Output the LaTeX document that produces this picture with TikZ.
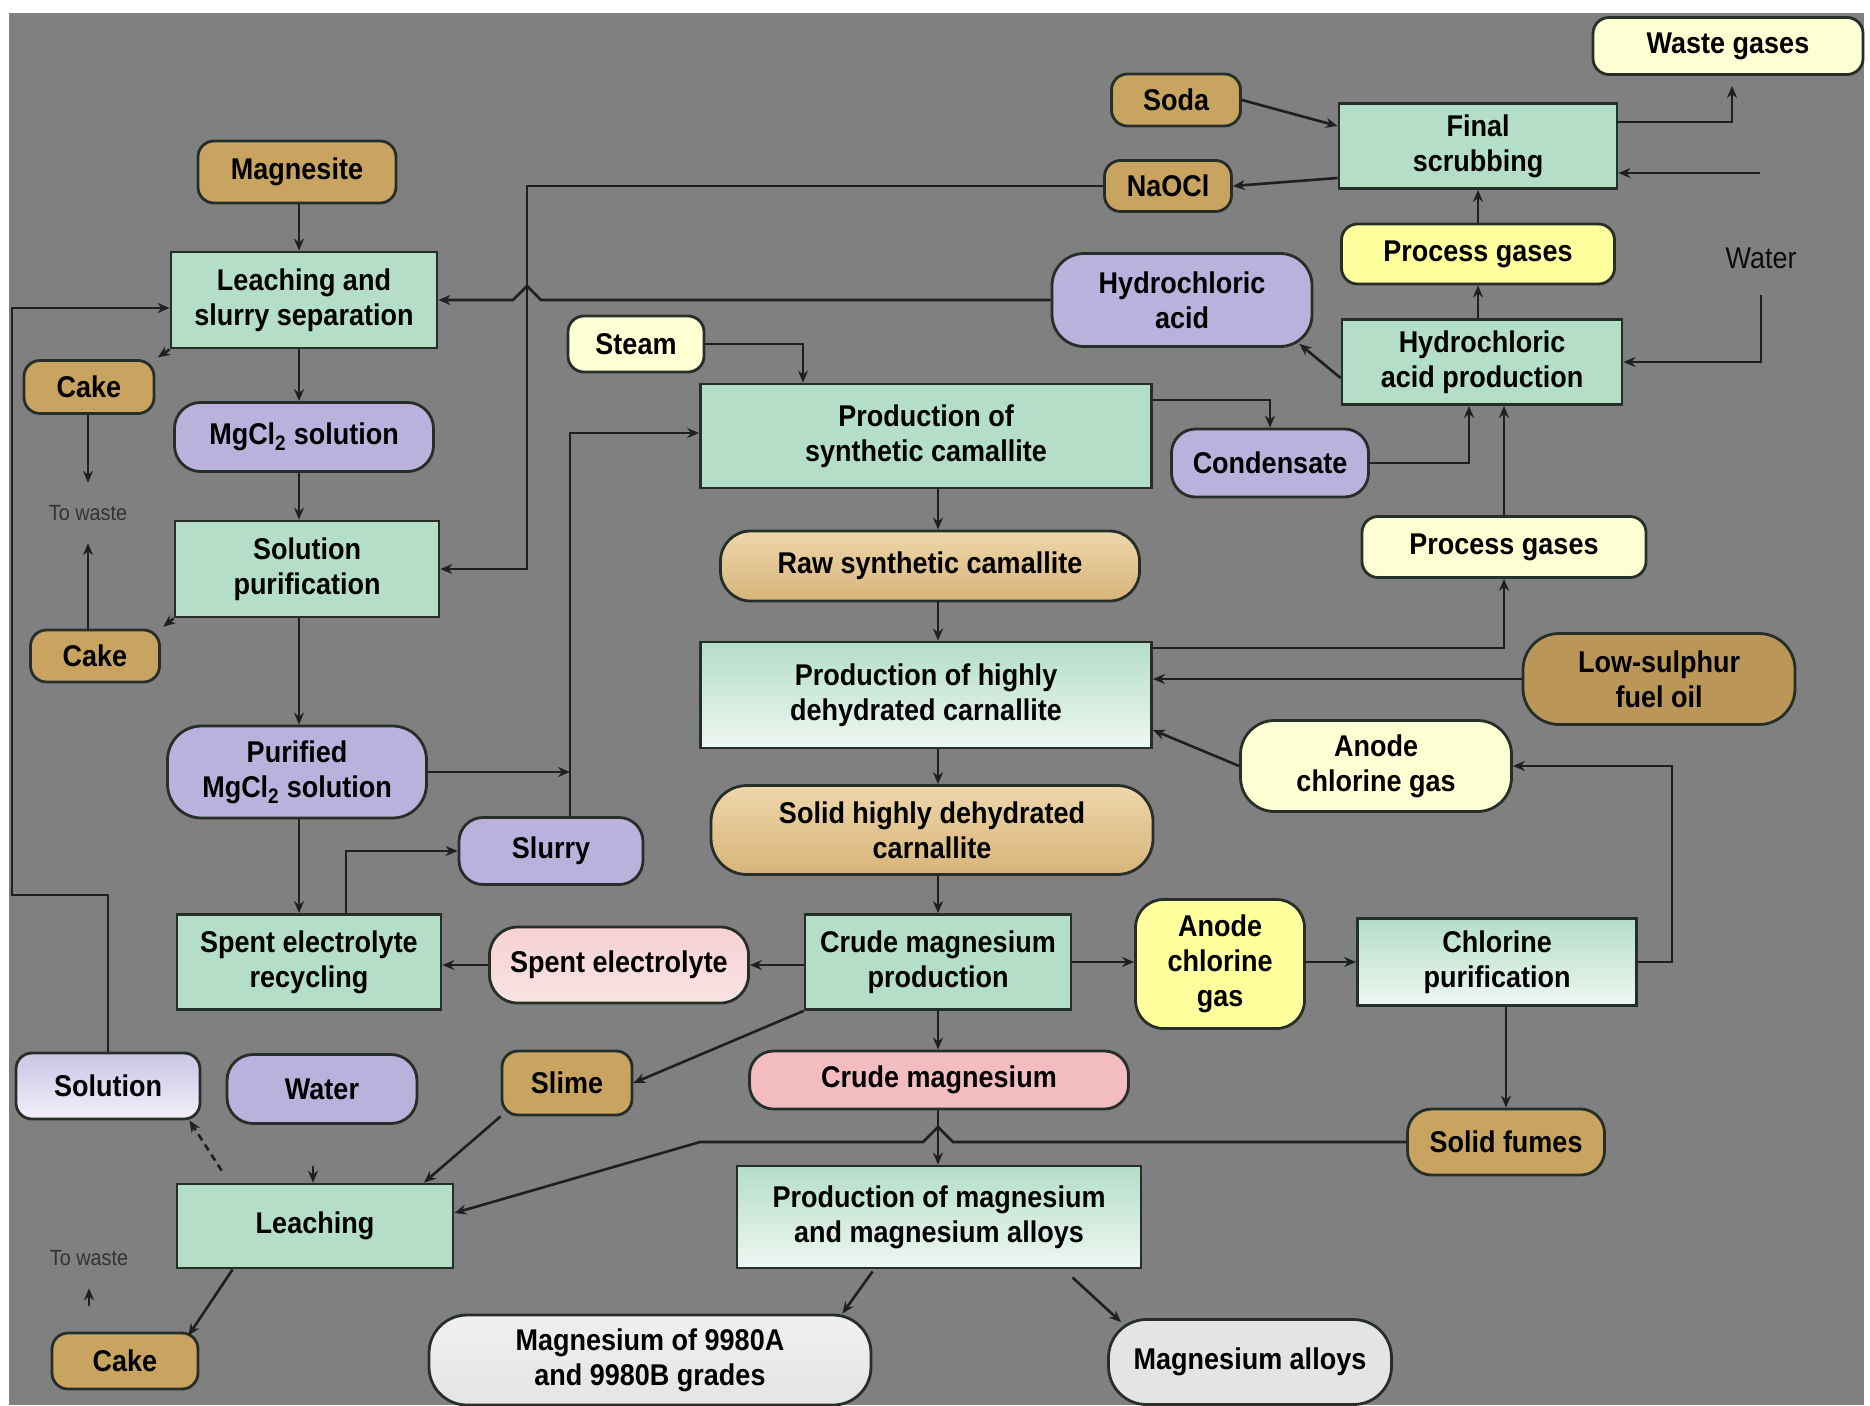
\documentclass[tikz,border=0pt]{standalone}
\usepackage{fontspec}
\setmainfont{Liberation Sans}[FakeStretch=0.9]
\usetikzlibrary{arrows.meta, calc}
\definecolor{bggray}{RGB}{128,128,128}
\definecolor{mint}{RGB}{180,222,200}
\definecolor{mintpale}{RGB}{238,247,242}
\definecolor{ochre}{RGB}{200,164,96}
\definecolor{ochredark}{RGB}{186,150,88}
\definecolor{sand}{RGB}{238,214,170}
\definecolor{sanddark}{RGB}{216,180,122}
\definecolor{lilac}{RGB}{186,178,220}
\definecolor{lilacpale}{RGB}{242,240,250}
\definecolor{cream}{RGB}{255,255,212}
\definecolor{lemon}{RGB}{255,255,158}
\definecolor{rose}{RGB}{242,188,192}
\definecolor{rosepale}{RGB}{250,228,228}
\definecolor{silver}{RGB}{228,228,228}
\definecolor{edge}{RGB}{38,46,40}

\begin{document}
\begin{tikzpicture}[
  x=1pt, y=-1pt,
  font=\bfseries\fontsize{30}{35}\selectfont,
  proc/.style={draw=edge, line width=2.8pt, fill=mint, inner sep=0pt,
               align=center},
  procg/.style={proc, top color=mint, bottom color=mintpale},
  item/.style={draw=edge, line width=2.8pt, rounded corners=16pt,
               inner sep=0pt, align=center},
  note/.style={font=\mdseries\fontsize{22}{26}\selectfont, text=black!80,
               inner sep=0pt, minimum height=60},
  arr/.style={-{Stealth[length=12pt,width=10pt]}, line width=2.6pt,
              draw=black!88},
  darr/.style={arr, dash pattern=on 7pt off 5pt}
]
\useasboundingbox (0,0) rectangle (1870,1405);
\fill[white] (0,0) rectangle (1870,1405);
\fill[bggray] (9,13) rectangle (1864,1405);

% Gas cleaning (top right)
\node[item, fill=cream, minimum width=270, minimum height=57] (waste) at (1728,46) {Waste gases};
\node[item, fill=ochre, minimum width=129, minimum height=52] (soda) at (1176,100) {Soda};
\node[proc, minimum width=278, minimum height=85] (scrub) at (1478,146) {Final\\scrubbing};
\node[item, fill=ochre, minimum width=127, minimum height=51] (naocl) at (1168,186) {NaOCl};
\node[item, fill=lemon, minimum width=273, minimum height=60] (gasA) at (1478,254) {Process gases};
\node[font=\mdseries\fontsize{30}{35}\selectfont, text=black!95, inner sep=0pt,
      minimum height=74] (waterT) at (1761,258) {Water};
\node[item, fill=lilac, rounded corners=32pt, minimum width=260, minimum height=93] (hcl) at (1182,300) {Hydrochloric\\acid};
\node[proc, minimum width=280, minimum height=85] (hclprod) at (1482,362) {Hydrochloric\\acid production};

% Left column
\node[item, fill=ochre, minimum width=198, minimum height=62] (magnesite) at (297,172) {Magnesite};
\node[proc, minimum width=266, minimum height=96] (leachsep) at (304,300) {Leaching and\\slurry separation};
\node[item, fill=ochre, minimum width=130, minimum height=53] (cakeA) at (89,387) {Cake};
\node[item, fill=lilac, rounded corners=26pt, minimum width=259, minimum height=69] (mgcl) at (304,437) {MgCl\textsubscript{2} solution};
\node[note] (wasteA) at (88,513) {To waste};
\node[proc, minimum width=264, minimum height=96] (solpur) at (307,569) {Solution\\purification};
\node[item, fill=ochre, minimum width=129, minimum height=52] (cakeB) at (95,656) {Cake};
\node[item, fill=lilac, rounded corners=34pt, minimum width=259, minimum height=92] (purmg) at (297,772) {Purified\\MgCl\textsubscript{2} solution};
\node[item, fill=lilac, rounded corners=24pt, minimum width=184, minimum height=67] (slurry) at (551,851) {Slurry};
\node[proc, minimum width=264, minimum height=95] (spentrec) at (309,962) {Spent electrolyte\\recycling};

% Carnallite line (centre)
\node[item, fill=cream, minimum width=136, minimum height=56] (steam) at (636,344) {Steam};
\node[proc, minimum width=451, minimum height=104] (synth) at (926,436) {Production of\\synthetic camallite};
\node[item, fill=lilac, rounded corners=24pt, minimum width=197, minimum height=68] (cond) at (1270,463) {Condensate};
\node[item, top color=sand, bottom color=sanddark, rounded corners=30pt,
      minimum width=419, minimum height=70] (raw) at (930,566) {Raw synthetic camallite};
\node[item, fill=cream, minimum width=284, minimum height=61] (gasB) at (1504,547) {Process gases};
\node[procg, minimum width=451, minimum height=106] (dehyd) at (926,695) {Production of highly\\dehydrated carnallite};
\node[item, fill=ochredark, rounded corners=36pt, minimum width=272, minimum height=91] (fuel) at (1659,679) {Low-sulphur\\fuel oil};
\node[item, fill=cream, rounded corners=34pt, minimum width=271, minimum height=91] (anodeA) at (1376,766) {Anode\\chlorine gas};
\node[item, top color=sand, bottom color=sanddark, rounded corners=36pt,
      minimum width=442, minimum height=89] (solid) at (932,830) {Solid highly dehydrated\\carnallite};

% Electrolysis row
\node[item, top color=rose!70!white, bottom color=rosepale, rounded corners=28pt,
      minimum width=259, minimum height=76] (spent) at (619,965) {Spent electrolyte};
\node[proc, minimum width=266, minimum height=95] (crudeprod) at (938,962) {Crude magnesium\\production};
\node[item, fill=lemon, rounded corners=28pt, minimum width=169, minimum height=129] (anodeB) at (1220,964) {Anode\\chlorine\\gas};
\node[procg, minimum width=279, minimum height=87] (clpur) at (1497,962) {Chlorine\\purification};

% Bottom part
\node[item, top color=lilac!75!white, bottom color=lilacpale,
      minimum width=184, minimum height=66] (solution) at (108,1086) {Solution};
\node[item, fill=lilac, rounded corners=26pt, minimum width=190, minimum height=69] (water) at (322,1089) {Water};
\node[item, fill=ochre, minimum width=130, minimum height=64] (slime) at (567,1083) {Slime};
\node[item, fill=rose, rounded corners=24pt, minimum width=379, minimum height=58] (crude) at (939,1080) {Crude magnesium};
\node[item, fill=ochre, rounded corners=24pt, minimum width=197, minimum height=66] (fumes) at (1506,1142) {Solid fumes};
\node[proc, minimum width=276, minimum height=84] (leach) at (315,1226) {Leaching};
\node[procg, minimum width=404, minimum height=102] (alloyprod) at (939,1217) {Production of magnesium\\and magnesium alloys};
\node[note] (wasteB) at (89,1258) {To waste};
\node[item, fill=ochre, minimum width=146, minimum height=56] (cakeC) at (125,1361) {Cake};
\node[item, top color=white!94!black, bottom color=silver, rounded corners=38pt,
      minimum width=442, minimum height=90] (grade) at (650,1360) {Magnesium of 9980A\\and 9980B grades};
\node[item, fill=silver, rounded corners=38pt, minimum width=283, minimum height=85] (alloys) at (1250,1362) {Magnesium alloys};

% Spines and loose ends
\coordinate (lsp) at (299,0);
\coordinate (spine) at (938,0);
\coordinate (jsl) at (570,433);
\coordinate (clr) at (1672,962);
\coordinate (wtop) at (1760,173);
\coordinate (wstub) at (313,1166);
\coordinate (cstub) at (89,1306);

% Left column flow
\foreach \a/\b in {magnesite/leachsep, leachsep/mgcl, mgcl/solpur, solpur/purmg, purmg/spentrec}{
  \draw[arr] (\a.south -| lsp) -- (\b.north -| lsp);
}
\draw[arr, shorten >=3pt] (leachsep.south west) -- (cakeA.north east);
\draw[arr] (cakeA.south -| wasteA) -- (wasteA.north);
\draw[arr, shorten >=3pt] (solpur.south west) -- (cakeB.north east);
\draw[arr] (cakeB.north -| wasteA) -- (wasteA.south);
\draw[arr] (solution.north) |- (12,895) -- (12,308) -- ($(leachsep.west)+(0,8)$);
\draw[arr] (slurry.north -| jsl) -- (jsl) -- (synth.west |- jsl);
\draw[arr] (purmg.east) -- (purmg.east -| jsl);
\draw[arr] ($(spentrec.north)+(37,0)$) |- (slurry.west);
\draw[arr] (spent.west) -- (spentrec.east |- spent.west);

% Centre flow
\foreach \a/\b in {synth/raw, raw/dehyd, dehyd/solid, solid/crudeprod, crudeprod/crude, crude/alloyprod}{
  \draw[arr] (\a.south -| spine) -- (\b.north -| spine);
}
\draw[arr] (steam.east) -| ($(synth.north)+(-123,0)$);
\draw[arr] ($(synth.east)+(0,-36)$) -| (cond.north);
\draw[arr] (crudeprod.west |- spent.west) -- (spent.east);
\draw[arr] (crudeprod.east) -- (anodeB.west |- crudeprod.east);
\draw[arr] (anodeB.east |- crudeprod.east) -- (clpur.west |- crudeprod.east);
\draw[arr] (clpur.east) -- (clr) |- (anodeA.east);
\draw[arr] (anodeA.west) -- ($(dehyd.east)+(0,35)$);
\draw[arr] (fuel.west) -- (dehyd.east |- fuel.west);
\draw[arr] ($(dehyd.east)+(0,-47)$) -| (gasB.south);
\draw[arr] (clpur.south -| fumes) -- (fumes.north);

% Gas cleaning flow
\draw[arr] (gasB.north) -- (gasB.north |- hclprod.south);
\draw[arr] (cond.east) -| ($(hclprod.south)+(-13,0)$);
\draw[arr] (gasA.south |- hclprod.north) -- (gasA.south);
\draw[arr] (gasA.north) -- (gasA.north |- scrub.south);
\draw[arr] ($(hclprod.west)+(0,16)$) -- ($(hcl.south east)+(-14,-4)$);
\draw[arr] (hcl.west) -- (541,300) -- (527,286) -- (513,300) -- (leachsep.east);
\draw[arr] (naocl.west) -| (527,569) -- (solpur.east);
\draw[arr] ($(scrub.west)+(0,32)$) -- (naocl.east);
\draw[arr] (soda.east) -- ($(scrub.west)+(0,-20)$);
\draw[arr, shorten >=10pt] ($(scrub.east)+(0,-24)$) -| ($(waste.south)+(4,0)$);
\draw[arr] (wtop) -- (scrub.east |- wtop);
\draw[arr] (waterT.south) |- (hclprod.east);

% Bottom flow
\draw[arr] (fumes.west) -- (953,1142) -- (938,1127) -- (923,1142) -- (700,1142)
  -- ($(leach.east)+(0,-13)$);
\draw[arr] (crudeprod.south west) -- (slime.east);
\draw[arr] (slime.south west) -- ($(leach.north)+(109,0)$);
\draw[arr] (wstub) -- (wstub |- leach.north);
\draw[darr] ($(leach.north west)+(46,-12)$) -- ($(solution.south east)+(-12,0)$);
\draw[arr] ($(leach.south west)+(57,0)$) -- ($(cakeC.north east)+(-11,4)$);
\draw[arr] (cstub) -- (wasteB.south);
\draw[arr] ($(alloyprod.south west)+(137,2)$) -- ($(grade.north east)+(-30,0)$);
\draw[arr] ($(alloyprod.south east)+(-70,8)$) -- ($(alloys.north west)+(14,4)$);

\end{tikzpicture}
\end{document}
